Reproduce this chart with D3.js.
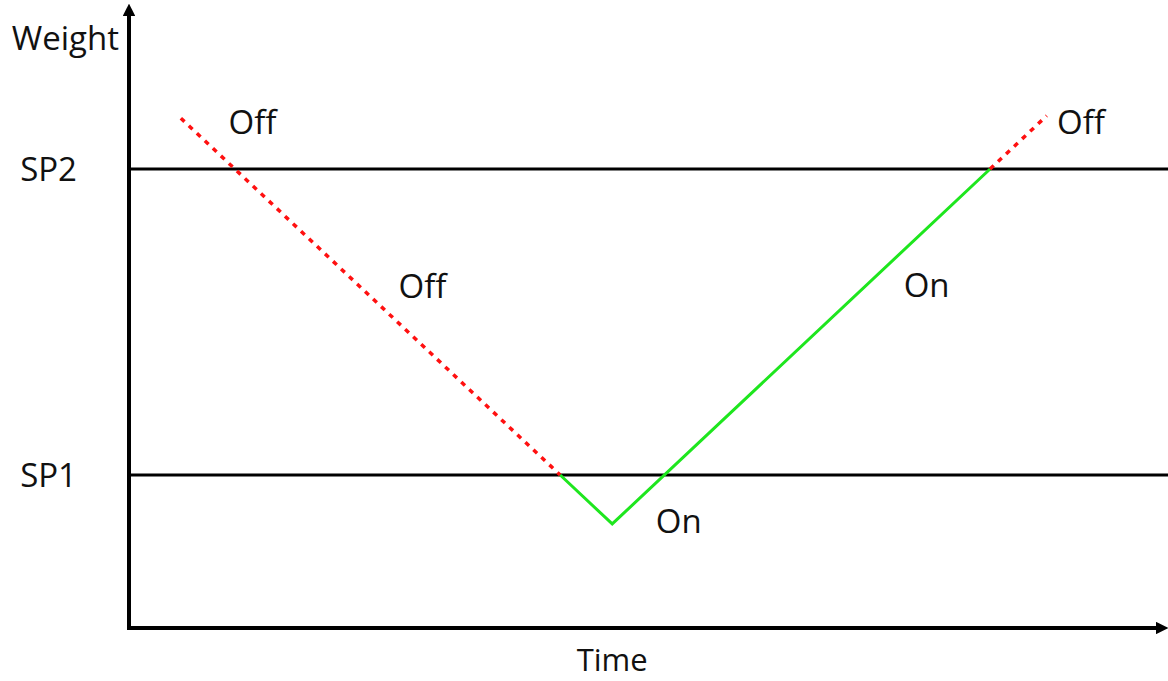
<!DOCTYPE html>
<html>
<head>
<meta charset="utf-8">
<script src="https://cdn.jsdelivr.net/npm/d3@7"></script>
<style>
  body { margin: 0; background: #fff; }
  svg text { font-family: "Open Sans", "Noto Sans", sans-serif; fill: #111; }
</style>
</head>
<body>
<div id="chart"></div>
<script>
// weight curve (time, weight in 0..100 units)
const curveTime = [5, 46.6, 88.5];
const curveWeight = [83.3, 17, 83.7];

// set points
const setPointNames = ["SP1", "SP2"];
const setPointValues = [25, 75];

// state labels along the curve
const labelText = ["Off", "Off", "On", "On", "Off"];
const labelTime = [9.6, 26, 74.7, 50.8, 89.5];
const labelWeight = [80.7, 53.9, 54.1, 15.5, 80.7];

const width = 1168;
const height = 681;
const marginTop = 16;
const marginRight = 2;
const marginBottom = 53;
const marginLeft = 129;
const fontSize = 33;

const svg = d3.select("#chart").append("svg")
  .attr("width", width)
  .attr("height", height)
  .attr("viewBox", [0, 0, width, height]);

const x = d3.scaleLinear().domain([0, 100]).range([marginLeft, width - marginRight]);
const y = d3.scaleLinear().domain([0, 100]).range([height - marginBottom, marginTop]);

// arrow head marker
svg.append("defs").append("marker")
  .attr("id", "arrow")
  .attr("viewBox", "0 0 10 10")
  .attr("refX", 5).attr("refY", 5)
  .attr("markerWidth", 3.2).attr("markerHeight", 3.2)
  .attr("orient", "auto")
  .append("path")
  .attr("d", "M0,0 L10,5 L0,10 Z")
  .attr("fill", "#000");

// split the curve into off / on pieces (hysteresis between SP1 and SP2)
const pts = curveTime.map((t, i) => ({ t, w: curveWeight[i] }));
const segments = [];
let state = "off";
let current = [pts[0]];
for (let i = 1; i < pts.length; i++) {
  const a = pts[i - 1], b = pts[i];
  const limit = state === "off" ? setPointValues[0] : setPointValues[1];
  const crosses = state === "off" ? (a.w > limit && b.w <= limit) : (a.w < limit && b.w >= limit);
  if (crosses) {
    const k = (limit - a.w) / (b.w - a.w);
    const c = { t: a.t + k * (b.t - a.t), w: limit };
    current.push(c);
    segments.push({ state, points: current });
    state = state === "off" ? "on" : "off";
    current = [c];
  }
  current.push(b);
}
segments.push({ state, points: current });

const line = d3.line().x(d => x(d.t)).y(d => y(d.w));

// set point lines
svg.append("g")
  .selectAll("line")
  .data(setPointValues)
  .join("line")
  .attr("x1", x(0))
  .attr("x2", width)
  .attr("y1", d => y(d))
  .attr("y2", d => y(d))
  .attr("stroke", "#000")
  .attr("stroke-width", 3);

svg.append("g")
  .selectAll("text")
  .data(setPointValues)
  .join("text")
  .attr("x", 77)
  .attr("y", d => y(d) + 12)
  .attr("text-anchor", "end")
  .attr("font-size", fontSize)
  .text((d, i) => setPointNames[i]);

// curve
svg.append("g")
  .selectAll("path")
  .data(segments)
  .join("path")
  .attr("d", d => line(d.points))
  .attr("fill", "none")
  .attr("stroke", d => d.state === "off" ? "#ff1010" : "#1ee61e")
  .attr("stroke-width", d => d.state === "off" ? 3.5 : 3)
  .attr("stroke-dasharray", d => d.state === "off" ? "5,6" : null);

// axes
svg.append("line")
  .attr("x1", x(0)).attr("y1", y(0))
  .attr("x2", x(0)).attr("y2", 10)
  .attr("stroke", "#000").attr("stroke-width", 4)
  .attr("marker-end", "url(#arrow)");

svg.append("line")
  .attr("x1", x(0) - 2).attr("y1", y(0))
  .attr("x2", width - 6).attr("y2", y(0))
  .attr("stroke", "#000").attr("stroke-width", 4)
  .attr("marker-end", "url(#arrow)");

svg.append("text")
  .attr("x", 119)
  .attr("y", 50)
  .attr("text-anchor", "end")
  .attr("font-size", fontSize)
  .text("Weight");

svg.append("text")
  .attr("x", x(46.6))
  .attr("y", 671)
  .attr("text-anchor", "middle")
  .attr("font-size", 31)
  .text("Time");

// state labels
svg.append("g")
  .selectAll("text")
  .data(labelText)
  .join("text")
  .attr("x", (d, i) => x(labelTime[i]))
  .attr("y", (d, i) => y(labelWeight[i]))
  .attr("font-size", fontSize)
  .text(d => d);
</script>
</body>
</html>
